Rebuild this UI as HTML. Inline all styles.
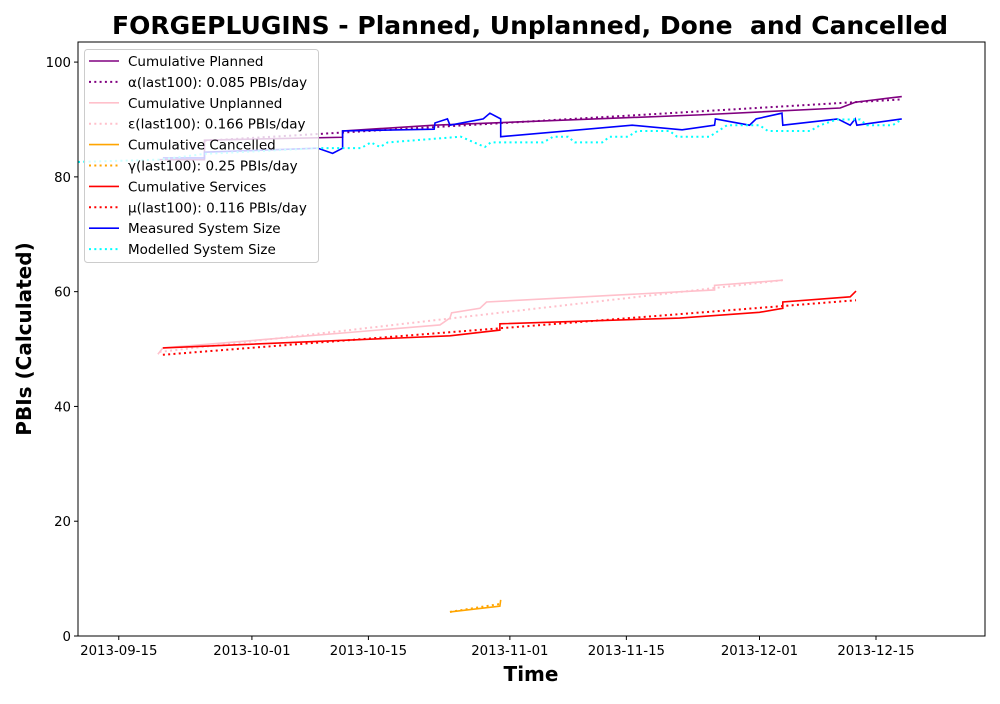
<!DOCTYPE html>
<html><head><meta charset="utf-8"><style>
body{margin:0;background:#fff;font-family:"DejaVu Sans","Liberation Sans",sans-serif}
svg text{font-family:"DejaVu Sans","Liberation Sans",sans-serif;white-space:pre}
</style></head><body>
<svg id="c" width="1000" height="700" xmlns="http://www.w3.org/2000/svg"></svg>
<script>
const xTickLabels=["2013-09-15","2013-10-01","2013-10-15","2013-11-01","2013-11-15","2013-12-01","2013-12-15"];
const xTickDays=[0,16,30,47,61,77,91];
const yTicks=[0,20,40,60,80,100];
const plannedD=[4.9,10.3,10.3,26.9,26.9,37.9,69.8,86.7,88.5,94.1];
const plannedV=[83,83,86.4,86.9,88,89,90.8,92,93,94];
const plannedTrendD=[10.3,94.1];
const plannedTrendV=[86.3,93.5];
const unplD=[4.7,5.3,38.6,39.8,40,43.4,44.2,71.6,71.6,79.8];
const unplV=[49.1,50.2,54.2,55.4,56.3,57.1,58.2,60.3,61.1,62];
const unplTrendD=[4.9,79.8];
const unplTrendV=[49.5,62];
const cancD=[39.8,45.8,45.9];
const cancV=[4.2,5.2,6.3];
const cancTrendD=[39.8,45.9];
const cancTrendV=[4.2,5.6];
const servD=[5.3,39.8,45.8,45.8,67.4,77,79.8,79.8,87.9,88.6];
const servV=[50.2,52.3,53.3,54.4,55.4,56.4,57.1,58.2,59.1,60.1];
const servTrendD=[5.3,88.6];
const servTrendV=[49,58.5];
const measD=[5.3,10.3,10.3,23.9,25.7,26.9,26.9,37.9,38,39.5,39.8,43.8,44.6,45.9,45.9,61.7,67.7,71.6,71.7,75.8,76.6,79.7,79.8,86.4,87.9,88.5,88.7,94.1];
const measV=[83.3,83.3,84.3,85,84.1,85,88,88.3,89.4,90.1,89,90.1,91.1,90.1,87,89,88.2,89,90.1,89,90.1,91.1,89,90.1,89,90.1,89,90.1];
const modD=[-4.9,4.9,10.3,23.9,29.1,30.3,31.4,32.3,41.1,44,44.7,51,52.2,54,54.8,58.1,59,61.2,62.3,66.2,67.1,71,73.1,77,78,83.1,84.3,86.3,89.1,89.9,93,94.1];
const modV=[82.6,83,84,85,85,86,85.2,86,87,85.2,86,86,87,87,86,86,87,87,88,88,87,87,89,89,88,88,89,90,90,89,89,90];
const L=78,R=985,T=42,B=636,d0=-4.9,d1=104.1;
const X=d=>L+(d-d0)/(d1-d0)*(R-L);
const Y=v=>B-(v/103.5)*(B-T);
const svg=document.getElementById('c');const NS="http://www.w3.org/2000/svg";
function mk(t,a,p){const e=document.createElementNS(NS,t);for(const k in a)e.setAttribute(k,a[k]);(p||svg).appendChild(e);return e;}
function txt(s,a){const e=mk('text',a);e.textContent=s;return e;}
let t=txt("FORGEPLUGINS - Planned, Unplanned, Done  and Cancelled",{x:530,y:34,'text-anchor':'middle','font-size':25,'font-weight':'bold'});


xTickDays.forEach((d,i)=>{mk('line',{x1:X(d),x2:X(d),y1:B,y2:B+4,stroke:'#000'});
 const e=txt(xTickLabels[i],{x:X(d),y:B+19,'text-anchor':'middle','font-size':13.3});
 
 });
yTicks.forEach(v=>{mk('line',{x1:L-4,x2:L,y1:Y(v),y2:Y(v),stroke:'#000'});
 const e=txt(String(v),{x:L-7,y:Y(v)+5,'text-anchor':'end','font-size':13.3});
 
 });
t=txt("Time",{x:531,y:681,'text-anchor':'middle','font-size':20,'font-weight':'bold'});


t=txt("PBIs (Calculated)",{x:31,y:339,'text-anchor':'middle','font-size':20,'font-weight':'bold',transform:'rotate(-90 31 339)'});


function line(D,V,col,dot,name){const p=mk('polyline',{points:D.map((d,i)=>X(d)+','+Y(V[i])).join(' '),fill:'none',stroke:col,'stroke-width':dot?2:1.6,'stroke-dasharray':dot?'2,3.3':'none'});
 
 }
line(plannedD,plannedV,'purple',0,'planned-line');
line(plannedTrendD,plannedTrendV,'purple',1,'planned-trend');
line(unplD,unplV,'pink',0,'unplanned-line');
line(unplTrendD,unplTrendV,'pink',1,'unplanned-trend');
line(cancD,cancV,'orange',0,'cancelled-line');
line(cancTrendD,cancTrendV,'orange',1,'cancelled-trend');
line(servD,servV,'red',0,'services-line');
line(servTrendD,servTrendV,'red',1,'services-trend');
line(measD,measV,'blue',0,'measured-size-line');
line(modD,modV,'cyan',1,'modelled-size-line');
mk('rect',{x:L,y:T,width:R-L,height:B-T,fill:'none',stroke:'#000','stroke-width':1});
const lg=mk('g',{});


mk('rect',{x:84.5,y:49.5,width:234,height:213,rx:3,fill:'rgba(255,255,255,0.8)',stroke:'#ccc'},lg);
const items=[["Cumulative Planned","purple",0],["α(last100): 0.085 PBIs/day","purple",1],["Cumulative Unplanned","pink",0],["ε(last100): 0.166 PBIs/day","pink",1],["Cumulative Cancelled","orange",0],["γ(last100): 0.25 PBIs/day","orange",1],["Cumulative Services","red",0],["μ(last100): 0.116 PBIs/day","red",1],["Measured System Size","blue",0],["Modelled System Size","cyan",1]];
items.forEach((it,i)=>{const y=61+i*20.9;
 mk('line',{x1:89,x2:119,y1:y,y2:y,stroke:it[1],'stroke-width':it[2]?2:1.6,'stroke-dasharray':it[2]?'2,3.3':'none'},lg);
 const e=mk('text',{x:128,y:y+5,'font-size':13.5},lg);e.textContent=it[0];
 
 });
</script></body></html>
